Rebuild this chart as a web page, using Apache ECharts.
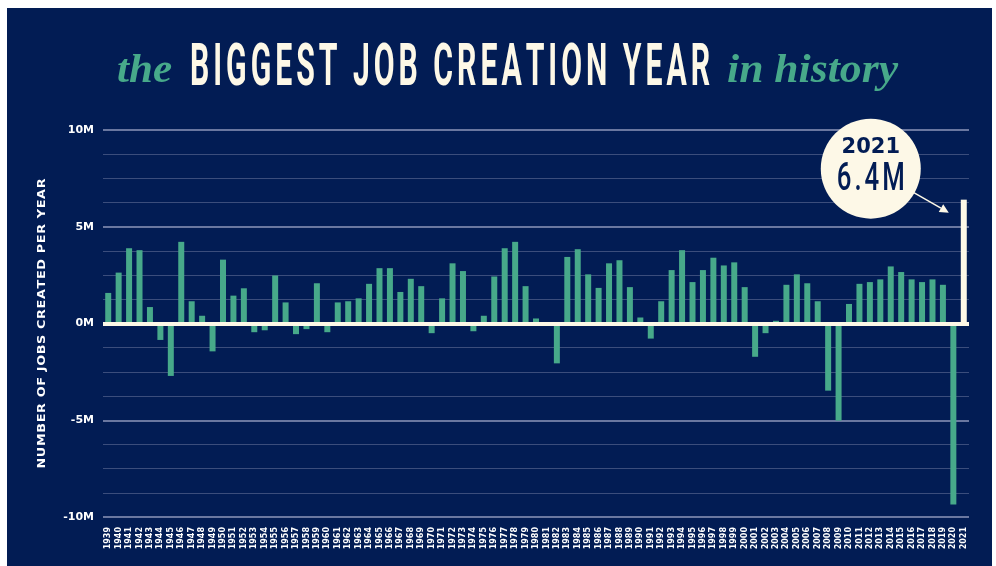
<!DOCTYPE html>
<html>
<head>
<meta charset="utf-8">
<script src="https://cdn.jsdelivr.net/npm/echarts@6/dist/echarts.min.js"></script>
<style>
  html, body { margin: 0; padding: 0; background: #ffffff; }
  #frame { position: absolute; left: 7px; top: 8px; width: 985px; height: 558px; background: #021c54; }
  #chart { position: absolute; left: 0; top: 0; width: 996px; height: 566px; }
</style>
</head>
<body>
<div id="frame"></div>
<div id="chart"></div>
<script>
// ---- data ----
const years = [
  '1939','1940','1941','1942','1943','1944','1945','1946','1947','1948','1949',
  '1950','1951','1952','1953','1954','1955','1956','1957','1958','1959',
  '1960','1961','1962','1963','1964','1965','1966','1967','1968','1969',
  '1970','1971','1972','1973','1974','1975','1976','1977','1978','1979',
  '1980','1981','1982','1983','1984','1985','1986','1987','1988','1989',
  '1990','1991','1992','1993','1994','1995','1996','1997','1998','1999',
  '2000','2001','2002','2003','2004','2005','2006','2007','2008','2009',
  '2010','2011','2012','2013','2014','2015','2016','2017','2018','2019',
  '2020','2021'
];
// jobs created per year, millions
const jobs = [
  1.58, 2.63, 3.89, 3.79, 0.85, -0.85, -2.71, 4.22, 1.15, 0.40, -1.44,
  3.30, 1.44, 1.82, -0.45, -0.35, 2.48, 1.09, -0.55, -0.29, 2.08,
  -0.45, 1.09, 1.15, 1.30, 2.05, 2.86, 2.86, 1.63, 2.31, 1.93,
  -0.50, 1.30, 3.11, 2.71, -0.40, 0.40, 2.43, 3.89, 4.22, 1.93,
  0.26, 0.00, -2.06, 3.44, 3.84, 2.54, 1.84, 3.11, 3.27, 1.88,
  0.31, -0.78, 1.15, 2.76, 3.79, 2.14, 2.76, 3.40, 3.00, 3.16,
  1.88, -1.72, -0.50, 0.14, 2.00, 2.54, 2.08, 1.15, -3.47, -5.02,
  1.01, 2.05, 2.14, 2.28, 2.95, 2.66, 2.28, 2.14, 2.28, 2.00,
  -9.35, 6.40
];
const highlightYear = '2021';
const highlightLabel = '6.4M';
const yMin = -10, yMax = 10, minorStep = 1.25, majorStep = 5;
const titleParts = ['the', 'BIGGEST JOB CREATION YEAR', 'in history'];
const yAxisTitle = 'NUMBER OF JOBS CREATED PER YEAR';

// ---- colours ----
const NAVY = '#021c54', GREEN = '#47a98a', CREAM = '#fdf8e7';

const chart = echarts.init(document.getElementById('chart'), null, { renderer: 'canvas' });

const measureCtx = document.createElement('canvas').getContext('2d');
function fontStr(st) {
  return (st.fontStyle || 'normal') + ' ' + (st.fontWeight || 'normal') + ' ' + st.fontSize + 'px "' + st.fontFamily + '"';
}
function fitScale(text, st, targetW) {
  measureCtx.font = fontStr(st);
  return targetW / measureCtx.measureText(text).width;
}
// lay out characters one by one with tracking, so text spans targetW from x0
function spaced(text, st, x0, y0, targetW, opts) {
  measureCtx.font = fontStr(st);
  const chars = Array.from(text);
  const ws = chars.map(c => measureCtx.measureText(c).width);
  const sum = ws.reduce((a, b) => a + b, 0);
  let s, sp;
  if (opts.scale != null) { s = opts.scale; sp = (targetW - sum * s) / (chars.length - 1); }
  else { sp = opts.spacing; s = (targetW - sp * (chars.length - 1)) / sum; }
  const out = [];
  let x = x0;
  chars.forEach((c, i) => {
    if (c !== ' ') {
      out.push({ type: 'text', x: x, y: y0, scaleX: s,
        style: Object.assign({}, st, { text: c, align: 'left', verticalAlign: 'middle' }) });
    }
    x += ws[i] * s + sp;
  });
  return out;
}

const barData = jobs.map((v, i) => years[i] === highlightYear
  ? { value: v, itemStyle: { color: CREAM } }
  : v);

const option = {
  backgroundColor: 'transparent',
  animation: false,
  grid: { left: 103, right: 27, top: 130, bottom: 49, containLabel: false },
  xAxis: {
    type: 'category',
    data: years,
    axisLine: { show: false },
    axisTick: { show: false },
    axisLabel: {
      interval: 0, rotate: 90, margin: 10,
      color: '#ffffff', fontFamily: 'DejaVu Sans', fontWeight: 'bold', fontSize: 8
    },
    splitLine: { show: false }
  },
  yAxis: [
    {
      type: 'value', min: yMin, max: yMax, interval: minorStep,
      axisLine: { show: false }, axisTick: { show: false },
      axisLabel: { show: false },
      splitLine: { lineStyle: { color: ['#6a77a0', '#3b4d7c', '#3b4d7c', '#3b4d7c'], width: 1 } }
    },
    {
      type: 'value', min: yMin, max: yMax, interval: majorStep, position: 'left',
      axisLine: { show: false }, axisTick: { show: false },
      axisLabel: {
        margin: 9, color: '#ffffff', fontFamily: 'DejaVu Sans', fontWeight: 'bold', fontSize: 11,
        formatter: v => v + 'M'
      },
      splitLine: { lineStyle: { color: '#6a77a0', width: 2 } }
    }
  ],
  series: [{
    type: 'bar',
    yAxisIndex: 0,
    data: barData,
    barWidth: 6,
    itemStyle: { color: GREEN },
    markLine: {
      silent: true, symbol: ['none', 'none'], label: { show: false },
      lineStyle: { color: CREAM, width: 4, type: 'solid' },
      data: [{ yAxis: 0 }]
    }
  }]
};
chart.setOption(option);

// ---- title, axis title, callout ----
const hIdx = years.indexOf(highlightYear);
const barTop = chart.convertToPixel({ xAxisIndex: 0, yAxisIndex: 0 }, [hIdx, jobs[hIdx]]);
const zeroY = chart.convertToPixel({ yAxisIndex: 0 }, 0);
const cx = barTop[0] - 93, cy = barTop[1] - 31;
const a0 = [barTop[0] - 50, barTop[1] - 7], a1 = [barTop[0] - 15, barTop[1] + 13];
const ang = Math.atan2(a1[1] - a0[1], a1[0] - a0[0]);
const hl = 9, hw = 4.5;
const headBase = [a1[0] - hl * Math.cos(ang), a1[1] - hl * Math.sin(ang)];
const head = [
  a1,
  [headBase[0] + hw * Math.sin(ang), headBase[1] - hw * Math.cos(ang)],
  [headBase[0] - hw * Math.sin(ang), headBase[1] + hw * Math.cos(ang)]
];

const serifSt = { fill: GREEN, fontFamily: 'Liberation Serif', fontStyle: 'italic', fontWeight: 'bold', fontSize: 40 };
const condSt = { fill: CREAM, fontFamily: 'Roboto', fontWeight: 700, fontSize: 59 };
const numSt = { fill: NAVY, fontFamily: 'Roboto', fontWeight: 500, fontSize: 38 };
const axSt = { fill: '#ffffff', fontFamily: 'DejaVu Sans', fontWeight: 'bold', fontSize: 10.5 };

const titleEls = [].concat(
  [{ type: 'text', x: 117, y: 72, scaleX: fitScale(titleParts[0], serifSt, 55),
     style: Object.assign({}, serifSt, { text: titleParts[0], align: 'left', verticalAlign: 'middle' }) }],
  spaced(titleParts[1], condSt, 190, 70, 520, { spacing: 4 }),
  [{ type: 'text', x: 727, y: 72, scaleX: fitScale(titleParts[2], serifSt, 171),
     style: Object.assign({}, serifSt, { text: titleParts[2], align: 'left', verticalAlign: 'middle' }) }]
);

const axisTitle = {
  type: 'group', x: 42, y: zeroY, rotation: Math.PI / 2,
  children: spaced(yAxisTitle, axSt, -145, 0, 290, { scale: 1.22 })
};

chart.setOption({
  graphic: [].concat(titleEls, [axisTitle,
    { type: 'line', shape: { x1: a0[0], y1: a0[1], x2: headBase[0], y2: headBase[1] },
      style: { stroke: CREAM, lineWidth: 1.5 } },
    { type: 'polygon', shape: { points: head }, style: { fill: CREAM } },
    { type: 'circle', shape: { cx: cx, cy: cy, r: 50 }, style: { fill: CREAM } },
    { type: 'text', x: cx, y: cy - 21,
      style: { text: highlightYear, fill: NAVY, fontFamily: 'DejaVu Sans', fontWeight: 'bold', fontSize: 21, align: 'center', verticalAlign: 'middle' } }
  ], spaced(highlightLabel, numSt, cx - 34, cy + 12, 68, { spacing: 3 }))
});
</script>
</body>
</html>
